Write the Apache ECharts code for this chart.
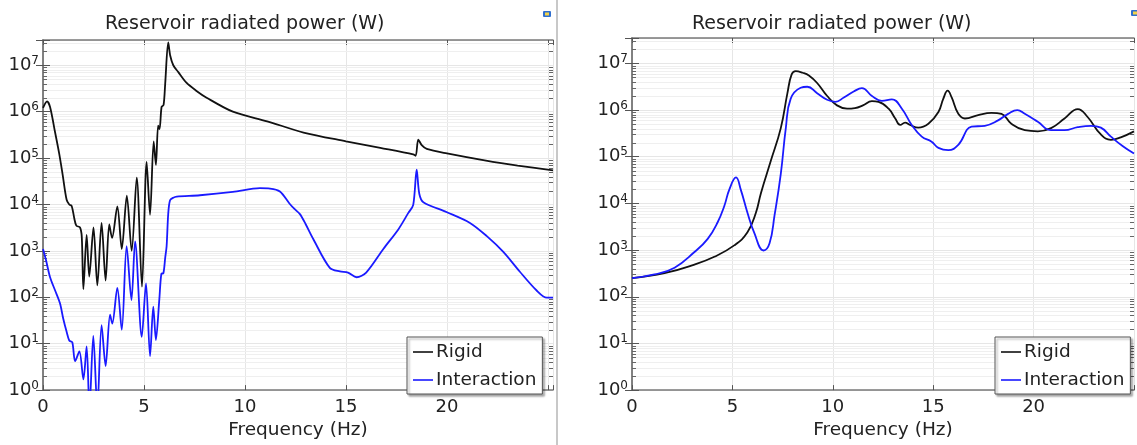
<!DOCTYPE html>
<html><head><meta charset="utf-8">
<script src="https://cdn.jsdelivr.net/npm/echarts@6/dist/echarts.min.js"></script>
<style>html,body{margin:0;padding:0;background:#fff}#c{width:1137px;height:445px}</style>
</head><body><div id="c"></div>
<script>
const seriesNames = ['Rigid', 'Interaction'];
const titleText = 'Reservoir radiated power (W)';
const xName = 'Frequency (Hz)';
const decadeExponents = [0, 1, 2, 3, 4, 5, 6, 7];
const minorMultipliers = [2, 3, 4, 5, 6, 7, 8, 9];

// Left panel
const freqRigidL = [0,0.2,0.35,0.6,0.8,0.97,1.17,1.3,1.42,1.55,1.65,1.83,1.92,2.0,2.16,2.29,2.5,2.69,2.9,3.1,3.28,3.42,3.68,3.9,4.15,4.39,4.64,4.9,5.13,5.3,5.48,5.59,5.7,5.77,5.87,5.97,6.05,6.2,6.3,6.45,6.7,7.1,7.6,8.1,9.4,11.1,12.9,15.0,16.7,18.33,18.45,18.58,18.75,19.0,20.0,22.0,23.5,25.25];
const powRigidL = [1.2e6,1.66e6,1.26e6,3.55e5,1.26e5,4.47e4,1.26e4,1.0e4,9.3e3,5.0e3,3.5e3,3.2e3,2.0e3,1.5e2,2.2e3,2.8e2,3.2e3,1.8e2,4.0e3,2.3e2,3.7e3,1.9e3,9.1e3,1.1e3,1.55e4,1.0e3,3.8e4,1.7e2,8.3e4,6.0e3,2.3e5,7.1e4,5.0e5,4.2e5,1.26e6,1.4e6,4.0e6,3.1e7,1.6e7,1.0e7,7.1e6,4.2e6,2.8e6,2.0e6,1.0e6,6.2e5,3.55e5,2.3e5,1.66e5,1.2e5,1.12e5,2.5e5,1.9e5,1.58e5,1.26e5,8.7e4,6.9e4,5.4e4];
const freqInterL = [0,0.15,0.35,0.6,0.84,1.0,1.17,1.3,1.45,1.59,1.8,2.0,2.16,2.3,2.49,2.69,2.9,3.1,3.32,3.43,3.68,3.9,4.14,4.38,4.56,4.89,5.1,5.3,5.46,5.59,5.76,5.86,5.96,6.05,6.12,6.2,6.29,6.45,6.62,7.77,9.4,10.74,11.24,11.73,12.2,12.45,12.72,13.0,13.38,14.2,14.7,15.1,15.53,16.0,16.85,17.59,18.08,18.33,18.5,18.63,18.83,20.0,21.14,21.96,22.79,23.6,24.44,24.94,25.25];
const powInterL = [1.1e3,6.3e2,2.7e2,1.4e2,74,35,18,11.7,10.7,4.2,6.8,1.7,8.7,0.4,14.8,0.4,25,3.3,42,27,160,20,1.26e3,87,1.6e3,14,200,5.4,63,12,91,320,330,710,1.26e3,6.3e3,1.23e4,1.4e4,1.48e4,1.58e4,1.86e4,2.24e4,2.2e4,1.9e4,1.05e4,8.0e3,6.2e3,3.8e3,1.8e3,430,360,340,270,340,1.1e3,2.9e3,6.5e3,9.8e3,5.6e4,1.7e4,1.12e4,6.8e3,4.0e3,2.1e3,950,360,140,98,98];

// Right panel
const freqRigidR = [0,1.62,3.11,4.1,5.09,5.75,6.17,6.42,6.91,7.41,7.74,7.95,8.15,8.5,8.81,9.22,9.72,10.21,10.71,11.1,11.5,11.95,12.28,12.78,13.11,13.36,13.6,13.85,14.26,14.76,15.26,15.5,15.72,15.92,16.25,16.58,17.24,17.9,18.4,18.89,19.56,20.21,20.87,21.54,22.2,22.69,23.35,23.85,24.34,25.0];
const powRigidR = [250,320,490,720,1.26e3,2.4e3,6.3e3,1.66e4,8.1e4,4.1e5,2.3e6,5.8e6,6.8e6,6.3e6,5.5e6,3.8e6,2.0e6,1.26e6,1.07e6,1.1e6,1.26e6,1.55e6,1.5e6,1.07e6,6.6e5,4.8e5,5.4e5,4.8e5,4.2e5,5.1e5,9.1e5,1.74e6,2.6e6,1.86e6,8.3e5,6.6e5,7.8e5,8.7e5,8.3e5,5.1e5,3.7e5,3.5e5,4.1e5,6.6e5,1.05e6,7.1e5,3.0e5,2.3e5,2.6e5,3.5e5];
const freqInterR = [0,1.12,2.12,3.11,3.77,4.26,4.6,4.85,5.18,5.42,5.75,6.08,6.55,6.85,7.1,7.41,7.66,7.9,8.4,8.73,9.22,9.72,10.13,10.55,11.04,11.45,11.95,12.44,12.94,13.44,13.93,14.43,14.92,15.26,15.75,16.25,16.91,17.57,18.23,18.73,19.19,19.56,20.21,20.87,21.54,22.2,22.86,23.35,23.85,24.43,25.0];
const powInterR = [250,300,420,910,1.74e3,3.9e3,8.9e3,2.0e4,3.6e4,1.95e4,6.3e3,2.4e3,980,1.4e3,5.6e3,4.3e4,4.1e5,1.74e6,3.0e6,3.16e6,2.3e6,1.66e6,1.5e6,1.86e6,2.5e6,2.95e6,2.0e6,1.58e6,1.7e6,1.07e6,4.8e5,2.7e5,2.1e5,1.55e5,1.38e5,1.8e5,4.4e5,4.6e5,6.0e5,8.3e5,1.0e6,8.3e5,5.6e5,3.7e5,3.7e5,4.3e5,4.6e5,4.2e5,2.7e5,1.7e5,1.17e5];

const FONT = 'DejaVu Sans';
const TXT = '#222';
const AXC = '#7a7a7a';
const colors = ['#111111', '#1a1aff'];
const yMin = 1, yMax = 3.5e7;
const xMaxL = 25.25, xMaxR = 25;

const pairs = (xs, ys) => xs.map((x, i) => [x, ys[i]]);
const minorVals = [];
decadeExponents.forEach(e => minorMultipliers.forEach(m => {
  const v = m * Math.pow(10, e);
  if (v < yMax) minorVals.push([0, v]);
}));

function xAxes(gi, max) {
  return [
    { type: 'value', gridIndex: gi, min: 0, max: max, interval: 5, position: 'bottom',
      axisLine: { lineStyle: { color: AXC, width: 1.5 } },
      axisTick: { inside: true, length: 5, lineStyle: { color: '#555' } },
      axisLabel: { margin: 8, fontSize: 18, fontFamily: FONT, color: TXT,
        formatter: v => (v > 22 ? '' : String(v)) },
      splitLine: { show: true, lineStyle: { color: '#e6e6e6', width: 1 } },
      name: xName, nameLocation: 'middle', nameGap: 21,
      nameTextStyle: { fontSize: 18.5, fontFamily: FONT, color: TXT } },
    { type: 'value', gridIndex: gi, min: 0, max: max, interval: 5, position: 'top',
      axisLine: { lineStyle: { color: AXC, width: 1.5 } },
      axisTick: { inside: true, length: 5, lineStyle: { color: '#555' } },
      axisLabel: { show: false }, splitLine: { show: false } }
  ];
}
function yAxes(gi) {
  return [
    { type: 'log', logBase: 10, gridIndex: gi, min: yMin, max: yMax, position: 'left',
      axisLine: { show: true, lineStyle: { color: AXC, width: 1.5 } },
      axisTick: { show: true, inside: true, length: 7, lineStyle: { color: '#555' } },
      axisLabel: { margin: 4,
        formatter: v => {
          const e = Math.log10(v), r = Math.round(e);
          if (Math.abs(e - r) > 1e-6) return '';
          return '{b|10}{s|' + r + '}';
        },
        rich: {
          b: { fontSize: 18, fontFamily: FONT, color: TXT },
          s: { fontSize: 12, fontFamily: FONT, color: TXT, verticalAlign: 'bottom', padding: [0, 0, 9, 0] }
        } },
      splitLine: { show: true, lineStyle: { color: '#e6e6e6', width: 1 } } },
    { type: 'log', logBase: 10, gridIndex: gi, min: yMin, max: yMax, position: 'right',
      axisLine: { show: true, lineStyle: { color: AXC, width: 1.5 } },
      axisTick: { show: true, inside: true, length: 7, lineStyle: { color: '#555' } },
      axisLabel: { show: false }, splitLine: { show: false } }
  ];
}

function minorSeries(xi, yi) {
  return {
    type: 'custom', xAxisIndex: xi, yAxisIndex: yi, silent: true, z: 1,
    data: minorVals,
    renderItem: (params, api) => {
      const cs = params.coordSys;
      const y = Math.round(api.coord([api.value(0), api.value(1)])[1]) + 0.5;
      return { type: 'group', children: [
        { type: 'line', shape: { x1: cs.x, y1: y, x2: cs.x + cs.width, y2: y }, style: { stroke: '#efefef', lineWidth: 1 } },
        { type: 'line', shape: { x1: cs.x, y1: y, x2: cs.x + 4, y2: y }, style: { stroke: '#666', lineWidth: 1 } },
        { type: 'line', shape: { x1: cs.x + cs.width - 4, y1: y, x2: cs.x + cs.width, y2: y }, style: { stroke: '#666', lineWidth: 1 } }
      ] };
    }
  };
}
function curve(name, color, xi, yi, data, smooth) {
  return { name: name, type: 'line', xAxisIndex: xi, yAxisIndex: yi, data: data,
    showSymbol: false, symbol: 'none', smooth: smooth, z: 3, clip: true,
    lineStyle: { color: color, width: 1.8 }, itemStyle: { color: color } };
}
function legend(left) {
  return { data: seriesNames, orient: 'vertical', left: left, top: 337,
    icon: 'rect', itemWidth: 20, itemHeight: 1.6, itemGap: 8,
    padding: [5, 6, 4, 6], backgroundColor: '#fff', borderColor: '#555', borderWidth: 1,
    shadowColor: 'rgba(0,0,0,0.35)', shadowBlur: 2, shadowOffsetX: 2, shadowOffsetY: 2,
    textStyle: { fontSize: 18.5, fontFamily: FONT, color: TXT, padding: [0, 0, 0, -2], lineHeight: 20 },
    selectedMode: false };
}

const option = {
  backgroundColor: '#fff',
  animation: false,
  title: [
    { text: titleText, left: 100, top: 10, textStyle: { fontSize: 19, fontWeight: 'normal', fontFamily: FONT, color: TXT } },
    { text: titleText, left: 687, top: 10, textStyle: { fontSize: 19, fontWeight: 'normal', fontFamily: FONT, color: TXT } }
  ],
  legend: [legend(407), legend(995)],
  grid: [
    { left: 43, top: 40, width: 510, height: 363, containLabel: false },
    { left: 632, top: 38, width: 504, height: 364, containLabel: false }
  ],
  xAxis: [...xAxes(0, xMaxL), ...xAxes(1, xMaxR)],
  yAxis: [...yAxes(0), ...yAxes(1)],
  series: [
    minorSeries(0, 0),
    minorSeries(2, 2),
    curve(seriesNames[0], colors[0], 0, 0, pairs(freqRigidL, powRigidL), 0.3),
    curve(seriesNames[1], colors[1], 0, 0, pairs(freqInterL, powInterL), 0.3),
    curve(seriesNames[0], colors[0], 2, 2, pairs(freqRigidR, powRigidR), 0.45),
    curve(seriesNames[1], colors[1], 2, 2, pairs(freqInterR, powInterR), 0.45)
  ],
  graphic: [
    { type: 'line', shape: { x1: 557, y1: 0, x2: 557, y2: 445 }, style: { stroke: '#c8c8c8', lineWidth: 2 } },
    { type: 'rect', shape: { x: 543, y: 11, width: 8, height: 6, r: 1 }, style: { fill: '#2f6fd0' } },
    { type: 'rect', shape: { x: 545, y: 12.5, width: 4, height: 3 }, style: { fill: '#f2d34a' } },
    { type: 'rect', shape: { x: 1131, y: 10, width: 8, height: 6, r: 1 }, style: { fill: '#2f6fd0' } },
    { type: 'rect', shape: { x: 1133, y: 11.5, width: 4, height: 3 }, style: { fill: '#f2d34a' } }
  ]
};
const chart = echarts.init(document.getElementById('c'), null, { renderer: 'canvas' });
chart.setOption(option);
</script>
</body></html>
